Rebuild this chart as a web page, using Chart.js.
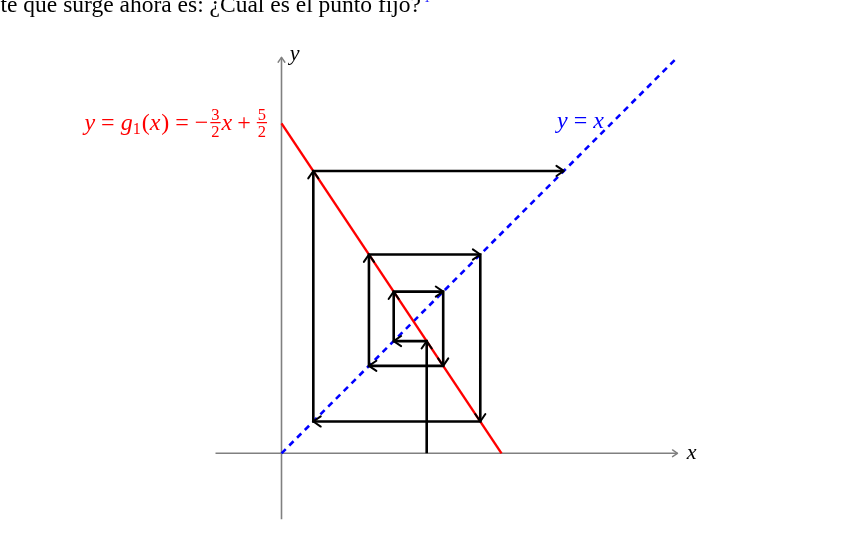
<!DOCTYPE html>
<html>
<head>
<meta charset="utf-8">
<script src="https://cdn.jsdelivr.net/npm/chart.js@4.4.0/dist/chart.umd.min.js"></script>
<style>
  html, body { margin: 0; padding: 0; background: #fff; overflow: hidden; }
  canvas { display: block; }
</style>
</head>
<body>
<canvas id="cobweb" width="865" height="552"></canvas>
<script>
// axis extents (data units)
const axisX = [-0.5, 3];
const axisY = [-0.5, 3];
// y = x
const diagX = [0, 3];
// y = g1(x) = -3/2 x + 5/2, from y-intercept down to the x-axis
const redX = [0, 1.6667];
const redY = [2.5, 0];
// cobweb path
const webX = [1.1, 1.1, 0.85, 0.85, 1.225, 1.225, 0.6625, 0.6625, 1.506, 1.506, 0.241, 0.241, 2.139];
const webY = [0, 0.85, 0.85, 1.225, 1.225, 0.6625, 0.6625, 1.506, 1.506, 0.241, 0.241, 2.139, 2.139];

// view window so that the origin lands where it does in the figure
const viewX = [-2.1326, 4.4205];
const viewY = [-0.7477, 3.434];

const mathFont = '"Liberation Serif", "DejaVu Serif", serif';

function arrowHead(ctx, x0, y0, x1, y1, len, spread, color, width) {
  const a = Math.atan2(y1 - y0, x1 - x0);
  ctx.save();
  ctx.strokeStyle = color;
  ctx.lineWidth = width;
  ctx.lineCap = 'round';
  ctx.lineJoin = 'round';
  ctx.beginPath();
  ctx.moveTo(x1 - len * Math.cos(a - spread), y1 - len * Math.sin(a - spread));
  ctx.lineTo(x1, y1);
  ctx.lineTo(x1 - len * Math.cos(a + spread), y1 - len * Math.sin(a + spread));
  ctx.stroke();
  ctx.restore();
}

// draws arrow tips on datasets that ask for them
const arrowPlugin = {
  id: 'arrows',
  afterDatasetsDraw(chart) {
    const ctx = chart.ctx;
    chart.data.datasets.forEach((ds, i) => {
      if (!ds.arrows) return;
      const pts = chart.getDatasetMeta(i).data;
      const from = ds.arrows === 'each' ? 1 : pts.length - 1;
      for (let k = from; k < pts.length; k++) {
        arrowHead(ctx, pts[k - 1].x, pts[k - 1].y, pts[k].x, pts[k].y,
          ds.arrowLen, ds.arrowSpread, ds.borderColor, ds.arrowWidth);
      }
    });
  }
};

function drawFrac(ctx, x, base, num, den) {
  ctx.font = '16.5px ' + mathFont;
  const w = Math.max(ctx.measureText(num).width, ctx.measureText(den).width) + 2;
  ctx.textAlign = 'center';
  ctx.fillText(num, x + w / 2 + 1, base - 10);
  ctx.fillText(den, x + w / 2 + 1, base + 7);
  ctx.fillRect(x + 1, base - 8, w, 1.2);
  ctx.textAlign = 'left';
  return w + 2;
}

const textPlugin = {
  id: 'texts',
  afterDraw(chart) {
    const ctx = chart.ctx;
    const sx = chart.scales.x, sy = chart.scales.y;
    ctx.save();
    ctx.textBaseline = 'alphabetic';

    // sentence above the figure (cut by the top edge)
    ctx.fillStyle = '#000';
    ctx.font = '23.5px ' + mathFont;
    ctx.textAlign = 'right';
    ctx.fillText('te que surge ahora es: ¿Cuál es el punto fijo?', 421, 12);
    ctx.fillStyle = '#0000ff';
    ctx.font = '12px ' + mathFont;
    ctx.textAlign = 'left';
    ctx.fillText('1', 424, 2);

    // axis names
    ctx.fillStyle = '#000';
    ctx.font = 'italic 22px ' + mathFont;
    ctx.fillText('x', sx.getPixelForValue(3.07), sy.getPixelForValue(-0.04));
    ctx.fillText('y', sx.getPixelForValue(0.062), sy.getPixelForValue(2.98));

    // y = x label
    ctx.fillStyle = '#0000ff';
    let bx = sx.getPixelForValue(2.087);
    const bb = sy.getPixelForValue(2.464);
    ctx.font = 'italic 24px ' + mathFont;
    ctx.fillText('y', bx, bb); bx += ctx.measureText('y').width + 6;
    ctx.font = '24px ' + mathFont;
    ctx.fillText('=', bx, bb); bx += ctx.measureText('=').width + 6;
    ctx.font = 'italic 24px ' + mathFont;
    ctx.fillText('x', bx, bb);

    // y = g1(x) = -3/2 x + 5/2 label, right end just left of the y-axis
    ctx.fillStyle = '#ff0000';
    const rb = sy.getPixelForValue(2.449);
    const parts = [
      ['i', 'y', 6], ['r', '=', 6], ['i', 'g', 0], ['s', '1', 1], ['r', '(', 0],
      ['i', 'x', 1], ['r', ')', 6], ['r', '=', 6], ['r', '−', 1], ['f', '3/2', 0],
      ['i', 'x', 5], ['r', '+', 5], ['f', '5/2', 0]
    ];
    const fontOf = t => t === 'i' ? 'italic 24px ' + mathFont : t === 's' ? '16px ' + mathFont : '24px ' + mathFont;
    let total = 0;
    parts.forEach(p => {
      if (p[0] === 'f') { ctx.font = '16.5px ' + mathFont; total += ctx.measureText('3').width + 4; }
      else { ctx.font = fontOf(p[0]); total += ctx.measureText(p[1]).width; }
      total += p[2];
    });
    let rx = sx.getPixelForValue(-0.102) - total;
    parts.forEach(p => {
      if (p[0] === 'f') {
        const nd = p[1].split('/');
        rx += drawFrac(ctx, rx, rb, nd[0], nd[1]);
      } else {
        ctx.font = fontOf(p[0]);
        ctx.fillText(p[1], rx, p[0] === 's' ? rb + 4 : rb);
        rx += ctx.measureText(p[1]).width;
      }
      rx += p[2];
    });
    ctx.restore();
  }
};

const line = (xs, ys) => xs.map((x, i) => ({ x: x, y: ys[i] }));

new Chart(document.getElementById('cobweb'), {
  type: 'scatter',
  data: {
    datasets: [
      {
        data: line(webX, webY), showLine: true, borderColor: '#000', borderWidth: 2.6,
        pointRadius: 0, order: 0, arrows: 'each', arrowLen: 9, arrowSpread: 0.6, arrowWidth: 2
      },
      {
        data: line(redX, redY), showLine: true, borderColor: '#ff0000', borderWidth: 2.4,
        pointRadius: 0, order: 1
      },
      {
        data: line(diagX, diagX), showLine: true, borderColor: '#0000ff', borderWidth: 2.6,
        borderDash: [6, 5], pointRadius: 0, order: 2
      },
      {
        data: line(axisX, [0, 0]), showLine: true, borderColor: '#808080', borderWidth: 1.6,
        pointRadius: 0, order: 3, arrows: 'end', arrowLen: 6, arrowSpread: 0.6, arrowWidth: 1.4
      },
      {
        data: line([0, 0], axisY), showLine: true, borderColor: '#808080', borderWidth: 1.6,
        pointRadius: 0, order: 3, arrows: 'end', arrowLen: 6, arrowSpread: 0.6, arrowWidth: 1.4
      }
    ]
  },
  options: {
    responsive: false,
    animation: false,
    devicePixelRatio: 1,
    layout: { padding: 0 },
    plugins: { legend: { display: false }, tooltip: { enabled: false } },
    scales: {
      x: { type: 'linear', min: viewX[0], max: viewX[1], display: false },
      y: { type: 'linear', min: viewY[0], max: viewY[1], display: false }
    }
  },
  plugins: [arrowPlugin, textPlugin]
});
</script>
</body>
</html>
